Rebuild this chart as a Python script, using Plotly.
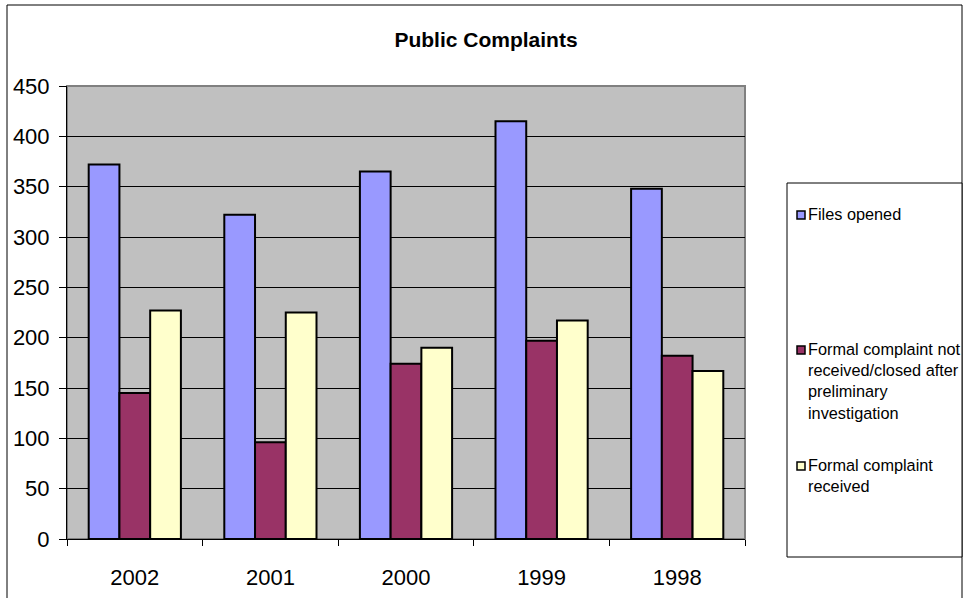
import plotly.graph_objects as go

years = ["2002", "2001", "2000", "1999", "1998"]
files_opened = [372, 322, 365, 415, 348]
not_received = [145, 96, 174, 197, 182]
received = [227, 225, 190, 217, 167]
y_ticks = [0, 50, 100, 150, 200, 250, 300, 350, 400, 450]

series_names = [
    "Files opened",
    "Formal complaint not<br>received/closed after<br>preliminary<br>investigation",
    "Formal complaint<br>received",
]
colors = ["#9999FF", "#993366", "#FFFFCC"]
series_vals = [files_opened, not_received, received]

W, H = 963, 598
L, R, T, B = 67, 745, 86, 539

FONT = "Arial, Liberation Sans, sans-serif"


def px_x(px):
    return (px - L) / (R - L)


def px_y(py):
    return (B - py) / (B - T)


fig = go.Figure()
for name, vals, col in zip(series_names, series_vals, colors):
    fig.add_trace(go.Bar(
        x=years, y=vals, name=name, showlegend=False,
        marker=dict(color=col, line=dict(color="black", width=2)),
    ))

shapes = [
    # plot area border (grey)
    dict(type="rect", xref="paper", yref="paper", x0=0, x1=1, y0=0, y1=1,
         line=dict(color="#808080", width=2), layer="below"),
    # chart outer border
    dict(type="rect", xref="paper", yref="paper",
         x0=px_x(7), x1=px_x(962), y0=px_y(606), y1=px_y(5),
         line=dict(color="black", width=1), layer="above"),
    # legend box
    dict(type="rect", xref="paper", yref="paper",
         x0=px_x(787), x1=px_x(962), y0=px_y(557), y1=px_y(183),
         line=dict(color="black", width=1), fillcolor="white", layer="above"),
]
annotations = []
LEG_FS = 16.3
entry_y = [215, 350, 466]  # first-line centre of each legend entry (px)
for name, col, cy in zip(series_names, colors, entry_y):
    shapes.append(dict(type="rect", xref="paper", yref="paper",
                       x0=px_x(797), x1=px_x(805), y0=px_y(cy + 4), y1=px_y(cy - 4),
                       line=dict(color="black", width=1.5), fillcolor=col, layer="above"))
    annotations.append(dict(text=name, xref="paper", yref="paper",
                            x=px_x(806), y=px_y(cy - 0.65 * LEG_FS - 1),
                            xanchor="left", yanchor="top", align="left",
                            showarrow=False,
                            font=dict(size=LEG_FS, family=FONT, color="black")))

fig.update_layout(
    width=W, height=H,
    margin=dict(l=L, r=W - R, t=T, b=H - B, pad=0, autoexpand=False),
    paper_bgcolor="white",
    plot_bgcolor="#C0C0C0",
    font=dict(family=FONT, color="black"),
    title=dict(text="<b>Public Complaints</b>", x=486 / W, xref="container",
               y=1 - 40 / H, yref="container", yanchor="middle", xanchor="center",
               font=dict(size=21, family=FONT, color="black")),
    barmode="group",
    bargap=0.32,
    bargroupgap=0,
    showlegend=False,
    xaxis=dict(
        type="category", tickson="boundaries", ticks="outside", ticklen=6,
        tickcolor="black", showline=True, linecolor="black", linewidth=1,
        tickfont=dict(size=22, family=FONT, color="black"),
        ticklabelstandoff=19, showgrid=False, zeroline=False, automargin=False,
        range=[-0.5, 4.5],
    ),
    yaxis=dict(
        range=[0, 450], tickvals=y_ticks, ticks="outside", ticklen=7,
        tickcolor="black", showline=True, linecolor="black", linewidth=1,
        tickfont=dict(size=22, family=FONT, color="black"),
        ticklabelstandoff=5, automargin=False,
        showgrid=True, gridcolor="black", gridwidth=1, zeroline=False,
    ),
    shapes=shapes,
    annotations=annotations,
)

fig.write_html("out.html")
